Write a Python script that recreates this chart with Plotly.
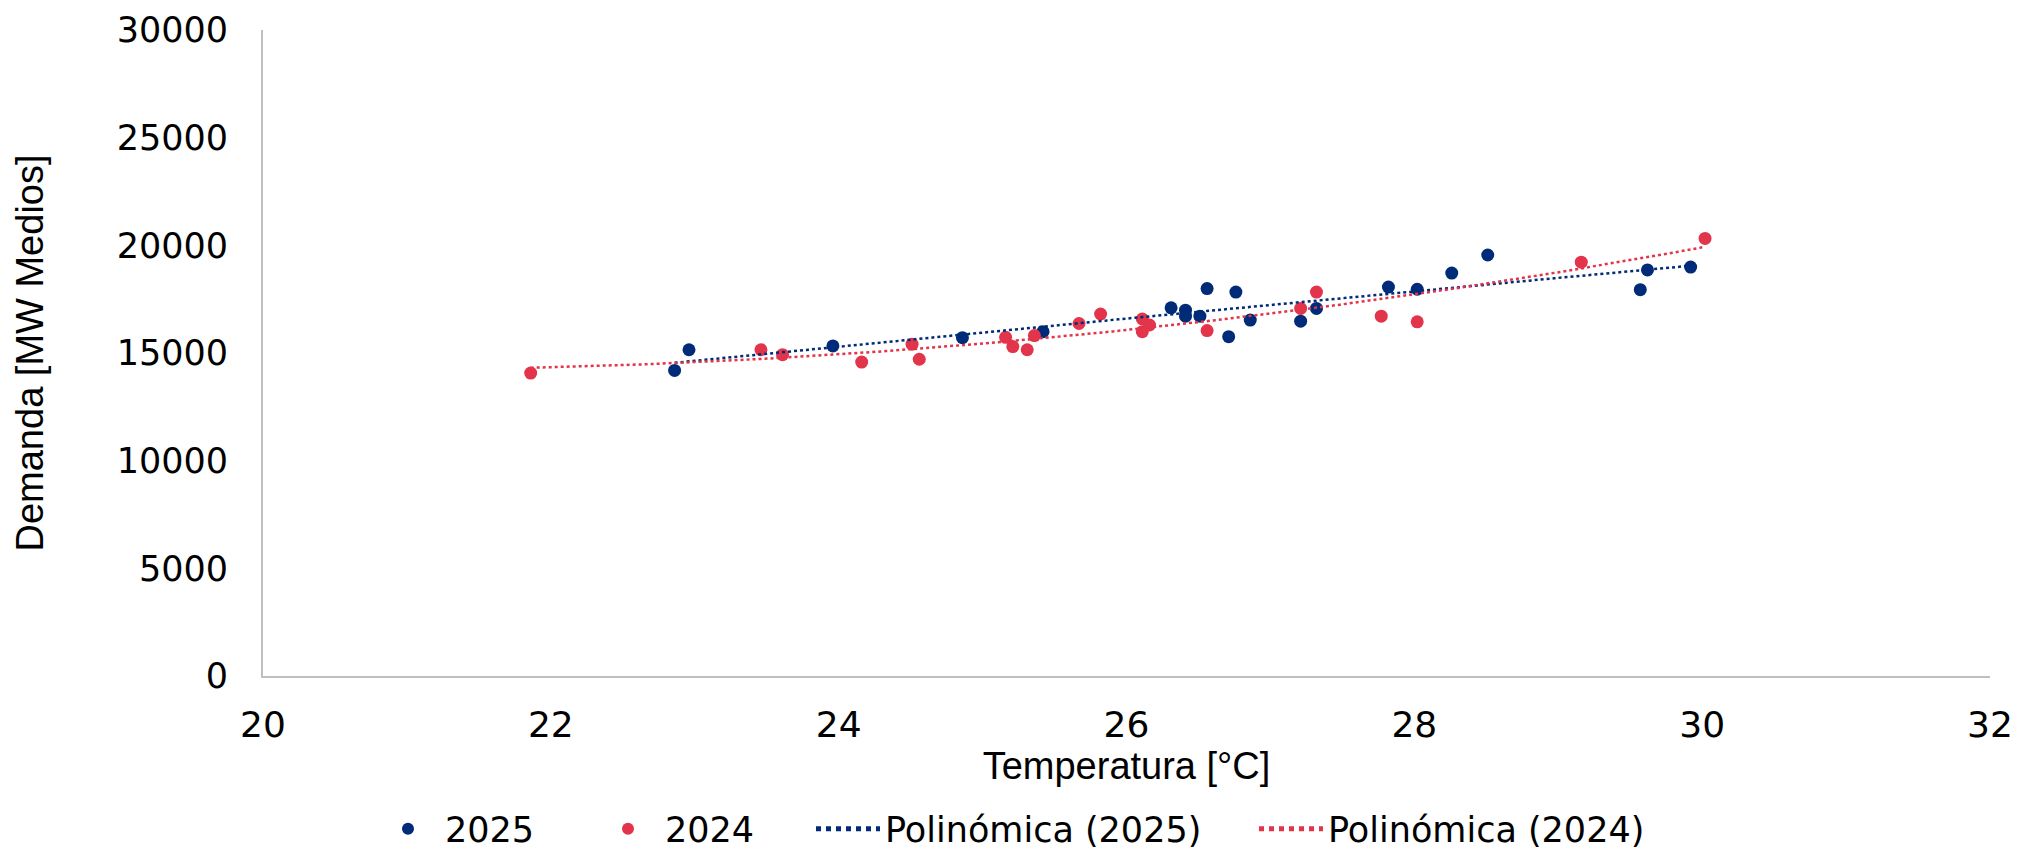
import numpy as np
import plotly.graph_objects as go

# 2025 data (Temperatura °C, Demanda MW medios)
temp_2025 = [22.86, 22.96, 23.96, 24.86, 25.42, 26.31, 26.41, 26.41, 26.51, 26.56, 26.76,
             26.71, 26.86, 27.21, 27.32, 27.82, 28.02, 28.26, 28.51, 29.57, 29.62, 29.92]
dem_2025 = [14190, 15150, 15330, 15710, 15990, 17100, 16990, 16710, 16710, 17990, 17830,
            15760, 16530, 16480, 17070, 18060, 17960, 18710, 19550, 17940, 18860, 18990]

# 2024 data
temp_2024 = [21.86, 23.46, 23.61, 24.16, 24.51, 24.56, 25.16, 25.21, 25.31, 25.36, 25.67,
             25.82, 26.11, 26.11, 26.16, 26.56, 27.21, 27.32, 27.77, 28.02, 29.16, 30.02]
dem_2024 = [14070, 15150, 14920, 14580, 15410, 14710, 15730, 15300, 15150, 15810, 16370,
            16810, 16580, 15990, 16300, 16040, 17070, 17830, 16710, 16450, 19220, 20320]

x_ticks = [20, 22, 24, 26, 28, 30, 32]
x_tick_labels = ["20", "22", "24", "26", "28", "30", "32"]
y_ticks = [0, 5000, 10000, 15000, 20000, 25000, 30000]
y_tick_labels = ["0", "5000", "10000", "15000", "20000", "25000", "30000"]

NAVY = "#002B78"
RED = "#E2344A"
TITLE_FONT = "Liberation Sans"
TICK_FONT = "DejaVu Sans"
W, H = 2029, 851


def poly_trend(xs, ys):
    coef = np.polyfit(xs, ys, 2)
    xx = np.linspace(min(xs), max(xs), 120)
    return xx, np.polyval(coef, xx)


fig = go.Figure()
fig.add_trace(go.Scatter(x=temp_2025, y=dem_2025, mode="markers", name="2025",
                         marker=dict(color=NAVY, size=13), legend="legend"))
fig.add_trace(go.Scatter(x=temp_2024, y=dem_2024, mode="markers", name="2024",
                         marker=dict(color=RED, size=13), legend="legend2"))
tx, ty = poly_trend(temp_2025, dem_2025)
fig.add_trace(go.Scatter(x=tx, y=ty, mode="lines", name="Polinómica (2025)",
                         line=dict(color=NAVY, width=2.5, dash="dot"), legend="legend3"))
tx, ty = poly_trend(temp_2024, dem_2024)
fig.add_trace(go.Scatter(x=tx, y=ty, mode="lines", name="Polinómica (2024)",
                         line=dict(color=RED, width=2.5, dash="dot"), legend="legend4"))


def leg(x_px):
    return dict(orientation="h", xref="container", x=x_px / W, xanchor="left",
                yref="container", y=1 - 821 / H, yanchor="middle",
                font=dict(family=TICK_FONT, size=35), itemsizing="constant",
                itemwidth=64, bgcolor="rgba(0,0,0,0)")


fig.update_layout(
    width=W, height=H,
    margin=dict(l=255, r=47, t=22, b=183),
    paper_bgcolor="white", plot_bgcolor="white",
    font=dict(family=TITLE_FONT, size=32, color="#000000"),
    showlegend=True,
    legend=leg(363), legend2=leg(583), legend3=leg(803), legend4=leg(1246),
    xaxis=dict(range=[20, 32], tickvals=x_ticks, ticktext=x_tick_labels,
               showgrid=False, zeroline=False, automargin=False,
               showline=True, linecolor="#BFBFBF", linewidth=2, ticks="",
               tickfont=dict(family=TICK_FONT, size=36),
               title=dict(text="Temperatura [°C]", standoff=0,
                          font=dict(family=TITLE_FONT, size=38)),
               ticklabelstandoff=16),
    yaxis=dict(range=[0, 30000], tickvals=y_ticks, ticktext=y_tick_labels,
               showgrid=False, zeroline=False, automargin=False,
               showline=True, linecolor="#BFBFBF", linewidth=2, ticks="",
               tickfont=dict(family=TICK_FONT, size=35), ticklabeloverflow="allow",
               title=dict(text="Demanda [MW Medios]", standoff=61,
                          font=dict(family=TITLE_FONT, size=38)),
               ticklabelstandoff=26),
)

fig.write_html("out.html")
